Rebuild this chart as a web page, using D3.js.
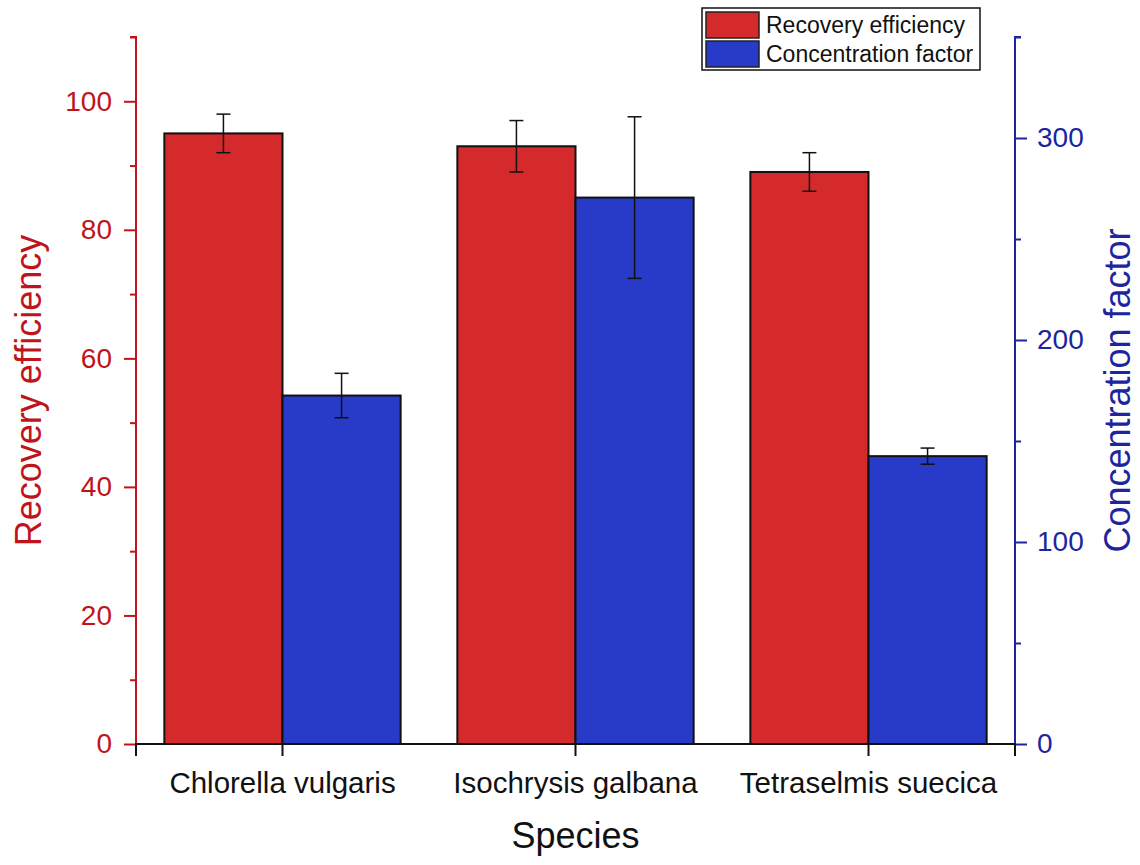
<!DOCTYPE html>
<html>
<head>
<meta charset="utf-8">
<script src="https://cdn.jsdelivr.net/npm/d3@7"></script>
<style>
  body { margin: 0; background: #fff; }
  text { font-family: Arial, "Liberation Sans", sans-serif; }
</style>
</head>
<body>
<div id="chart"></div>
<script>
let species = ["Chlorella vulgaris", "Isochrysis galbana", "Tetraselmis suecica"];
let recovery = [95, 93, 89];
let recoveryErr = [3, 4, 3];
let concentration = [172.5, 270.5, 142.5];
let concentrationErr = [11, 40, 4];
let leftTicks = [0, 20, 40, 60, 80, 100];
let rightTicks = [0, 100, 200, 300];

let redFill = "#d42a2c";
let blueFill = "#283ac8";
let redAxis = "#c0141c";
let blueAxis = "#1c259e";

let svg = d3.select("#chart").append("svg")
    .attr("width", 1140)
    .attr("height", 865);

// plot area
let pLeft = 136, pRight = 1015, pTop = 37, pBottom = 744;

let x = d3.scaleBand()
    .domain(species)
    .range([pLeft, pRight]);

let inner = d3.scaleBand()
    .domain(["r", "c"])
    .range([0, x.bandwidth()])
    .paddingOuter(0.24);

let yL = d3.scaleLinear().domain([0, 110]).range([pBottom, pTop]);
let yR = d3.scaleLinear().domain([0, 350]).range([pBottom, pTop]);

// bars
function drawBars(vals, errs, key, scale, fill) {
    let g = svg.append("g");
    g.selectAll("rect")
      .data(vals)
      .enter().append("rect")
        .attr("x", (d, i) => x(species[i]) + inner(key))
        .attr("y", d => scale(d))
        .attr("width", inner.bandwidth())
        .attr("height", d => scale(0) - scale(d))
        .attr("fill", fill)
        .attr("stroke", "#111")
        .attr("stroke-width", 2);

    vals.forEach(function(v, i) {
        let cx = x(species[i]) + inner(key) + inner.bandwidth() / 2;
        let y1 = scale(v + errs[i]), y2 = scale(v - errs[i]);
        g.append("line").attr("x1", cx).attr("x2", cx).attr("y1", y1).attr("y2", y2)
          .attr("stroke", "#111").attr("stroke-width", 1.5);
        [y1, y2].forEach(function(yy) {
            g.append("line").attr("x1", cx - 7).attr("x2", cx + 7).attr("y1", yy).attr("y2", yy)
              .attr("stroke", "#111").attr("stroke-width", 1.5);
        });
    });
}

drawBars(recovery, recoveryErr, "r", yL, redFill);
drawBars(concentration, concentrationErr, "c", yR, blueFill);

// left axis
let gl = svg.append("g")
    .attr("transform", "translate(" + pLeft + ",0)")
    .call(d3.axisLeft(yL).tickValues(d3.range(0, 111, 10)).tickSize(6)
        .tickFormat(d => leftTicks.includes(d) ? d : ""));
gl.select(".domain").attr("stroke", redAxis).attr("stroke-width", 2).attr("d", "M-6," + pTop + "H0V" + pBottom);
gl.selectAll(".tick line").attr("stroke", redAxis).attr("stroke-width", 2)
    .attr("x2", d => leftTicks.includes(d) ? -12 : -6);
gl.selectAll(".tick text").attr("fill", redAxis).attr("font-size", 28).attr("x", -24)
    .style("font-family", "Arial, 'Liberation Sans', sans-serif");

// right axis
let gr = svg.append("g")
    .attr("transform", "translate(" + pRight + ",0)")
    .call(d3.axisRight(yR).tickValues(d3.range(0, 351, 50)).tickSize(6)
        .tickFormat(d => rightTicks.includes(d) ? d : ""));
gr.select(".domain").attr("stroke", blueAxis).attr("stroke-width", 2).attr("d", "M6," + pTop + "H0V" + pBottom);
gr.selectAll(".tick line").attr("stroke", blueAxis).attr("stroke-width", 2)
    .attr("x2", d => rightTicks.includes(d) ? 12 : 6);
gr.selectAll(".tick text").attr("fill", blueAxis).attr("font-size", 28).attr("x", 22)
    .style("font-family", "Arial, 'Liberation Sans', sans-serif");

// bottom axis
let gb = svg.append("g")
    .attr("transform", "translate(0," + pBottom + ")")
    .call(d3.axisBottom(x).tickSize(12).tickSizeOuter(0));
gb.select(".domain").attr("stroke", "#111").attr("stroke-width", 2)
    .attr("d", "M" + pLeft + ",12V0H" + pRight + "V12");
gb.selectAll(".tick line").attr("stroke", "#111").attr("stroke-width", 2);
gb.selectAll(".tick text").attr("fill", "#111").attr("font-size", 29.5).attr("y", 28)
    .style("font-family", "Arial, 'Liberation Sans', sans-serif");

// axis titles
svg.append("text")
    .attr("transform", "translate(41," + ((pTop + pBottom) / 2) + ") rotate(-90)")
    .attr("text-anchor", "middle")
    .attr("fill", redAxis)
    .attr("font-size", 36)
    .text("Recovery efficiency");

svg.append("text")
    .attr("transform", "translate(1130," + ((pTop + pBottom) / 2) + ") rotate(-90)")
    .attr("text-anchor", "middle")
    .attr("fill", blueAxis)
    .attr("font-size", 36)
    .text("Concentration factor");

svg.append("text")
    .attr("x", (pLeft + pRight) / 2)
    .attr("y", 848)
    .attr("text-anchor", "middle")
    .attr("fill", "#111")
    .attr("font-size", 36)
    .text("Species");

// legend
let legend = svg.append("g").attr("transform", "translate(702,8)");
legend.append("rect").attr("width", 278).attr("height", 62)
    .attr("fill", "#fff").attr("stroke", "#111").attr("stroke-width", 1.5);
[["Recovery efficiency", redFill], ["Concentration factor", blueFill]].forEach(function(item, i) {
    legend.append("rect").attr("x", 4).attr("y", 4 + i * 29).attr("width", 53).attr("height", 26)
        .attr("fill", item[1]).attr("stroke", "#222").attr("stroke-width", 1.5);
    legend.append("text").attr("x", 64).attr("y", 25 + i * 29)
        .attr("font-size", 23).attr("fill", "#111").text(item[0]);
});
</script>
</body>
</html>
